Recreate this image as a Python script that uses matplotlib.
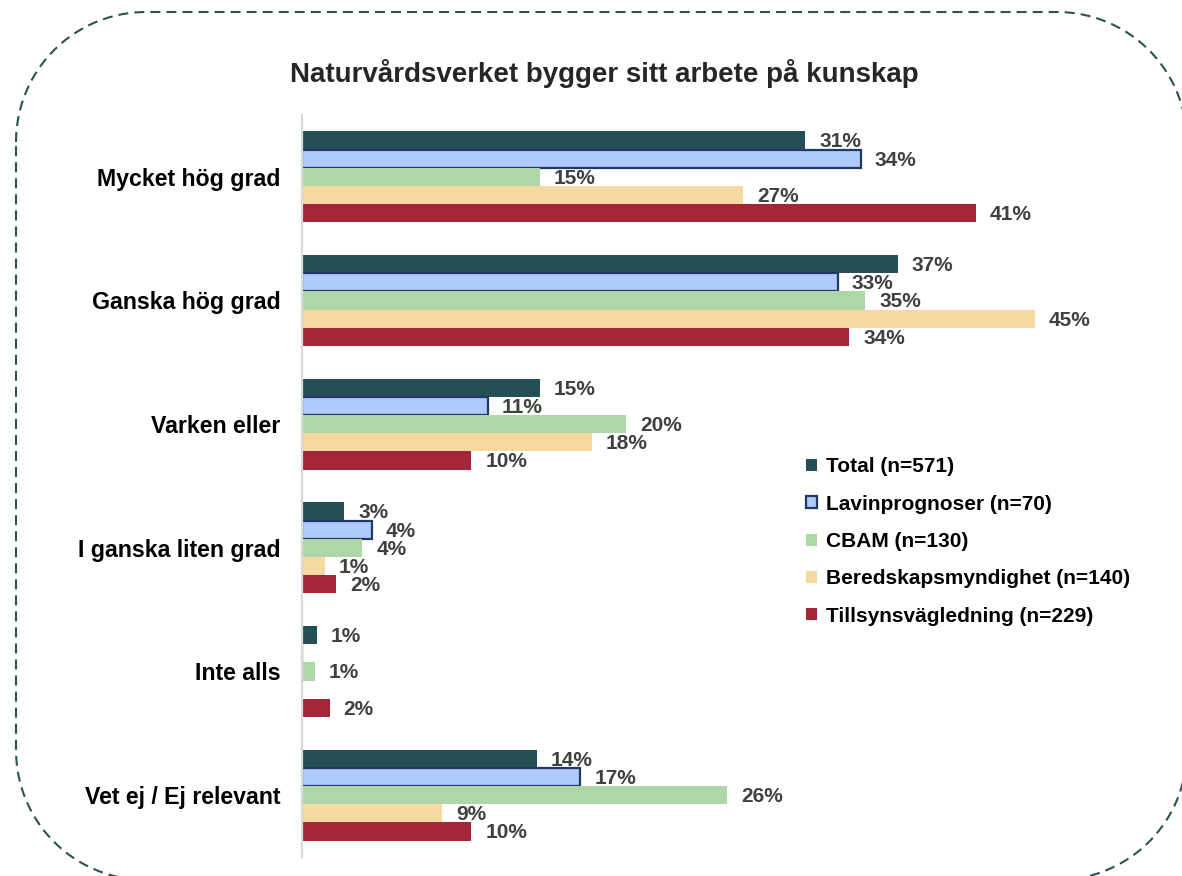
import matplotlib
matplotlib.use("Agg")
import matplotlib.pyplot as plt
import matplotlib.transforms as mtrans
from matplotlib.lines import Line2D
import numpy as np

plt.rcParams['font.family'] = ['Liberation Sans', 'DejaVu Sans']

categories = ["Mycket hög grad", "Ganska hög grad", "Varken eller",
              "I ganska liten grad", "Inte alls", "Vet ej / Ej relevant"]
series_names = ["Total (n=571)", "Lavinprognoser (n=70)", "CBAM (n=130)",
                "Beredskapsmyndighet (n=140)", "Tillsynsvägledning (n=229)"]
total = [30.9, 36.6, 14.6, 2.6, 0.9, 14.4]
lavin = [34.3, 32.9, 11.4, 4.3, 0.0, 17.1]
cbam = [14.6, 34.6, 19.9, 3.7, 0.8, 26.1]
bered = [27.1, 45.0, 17.8, 1.4, 0.0, 8.6]
tillsyn = [41.4, 33.6, 10.4, 2.1, 1.7, 10.4]
title = "Naturvårdsverket bygger sitt arbete på kunskap"

series = [total, lavin, cbam, bered, tillsyn]
colors = ["#264f55", "#afcbfb", "#afd6a9", "#f4d9a0", "#a52639"]
edges = [None, "#1f3864", None, None, None]

W, H = 1182, 876
fig = plt.figure(figsize=(W / 100, H / 100), dpi=100)
ax = fig.add_axes([302 / W, 1 - 857 / H, 798 / W, (857 - 115) / H])

y = np.arange(len(categories))
h = 0.147
for j, (vals, c, ec) in enumerate(zip(series, colors, edges)):
    pos = y + (j - 2) * h
    v = np.array(vals, dtype=float)
    if ec:
        bars = ax.barh(pos, v, height=h, color=c, edgecolor=ec, linewidth=1.6,
                       label=series_names[j])
    else:
        bars = ax.barh(pos, v, height=h, color=c, linewidth=0,
                       label=series_names[j])
    for b, val in zip(bars, v):
        if val > 0:
            ax.annotate(f"{val:.0f}%", (b.get_width(), b.get_y() + b.get_height() / 2),
                        xytext=(10, -1), textcoords="offset points",
                        ha="left", va="center", fontsize=15, fontweight="bold",
                        color="#404040")

ax.set_ylim(len(categories) - 0.5, -0.5)
ax.set_xlim(0, 49)
ax.set_yticks(y)
ax.set_yticklabels(categories, fontsize=16.7, fontweight="bold", color="black")
ax.tick_params(axis="y", length=0, pad=15.5)
ax.set_xticks([])
for s in ["top", "right", "bottom"]:
    ax.spines[s].set_visible(False)
ax.spines["left"].set_color("#d9d9d9")
ax.spines["left"].set_linewidth(1.6)

fig.text(604 / W, 1 - 73 / H, title, ha="center", va="center",
         fontsize=20, fontweight="bold", color="#262626")

leg = fig.legend(loc="upper left", bbox_to_anchor=(796 / W, 1 - 447 / H),
                 frameon=False, handlelength=0.5, handleheight=0.5,
                 handletextpad=0.45, labelspacing=0.88, borderpad=0,
                 prop={"weight": "bold", "size": 15})

# dashed rounded frame (pixel coordinates)
x0, x1 = 16, 1187
yt, yb = 12, 880
R = 130
def arc(cx, cy, a0, a1):
    t = np.linspace(np.radians(a0), np.radians(a1), 60)
    return cx + R * np.cos(t), cy + R * np.sin(t)
pts_x, pts_y = [], []
for (cx, cy, a0, a1) in [(x0 + R, yt + R, 180, 270),
                         (x1 - R, yt + R, 270, 360),
                         (x1 - R, yb - R, 0, 90),
                         (x0 + R, yb - R, 90, 180)]:
    ax_, ay_ = arc(cx, cy, a0, a1)
    pts_x.extend(ax_)
    pts_y.extend(ay_)
pts_x.append(pts_x[0])
pts_y.append(pts_y[0])
pts_y = H - np.array(pts_y)
frame = Line2D(pts_x, pts_y, transform=mtrans.IdentityTransform(),
               color="#2a5257", linewidth=1.5, linestyle=(0, (4.8, 2.9)))
fig.add_artist(frame)

fig.savefig("out.png", dpi=100)
